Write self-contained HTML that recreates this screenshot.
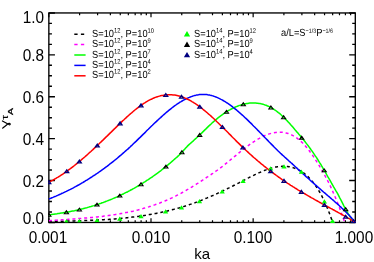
<!DOCTYPE html>
<html><head><meta charset="utf-8"><style>
html,body{margin:0;padding:0;background:#fff}
#w{position:relative;width:374px;height:262px;overflow:hidden;background:#fff;font-family:"Liberation Sans",sans-serif;color:#000}
#tx{position:absolute;left:0;top:0;width:374px;height:262px;filter:grayscale(1)}
.t{position:absolute;font-size:16px;line-height:14px;white-space:nowrap;transform:scaleX(0.96)}
.yl{width:40px;text-align:right;left:4px;transform-origin:right center}
.xl{width:60px;text-align:center}
.lg{position:absolute;font-size:9.3px;line-height:10px;white-space:nowrap;transform:scaleY(1.1) rotate(0.03deg);transform-origin:0 8.07px}
.an sup{top:-2.8px !important;font-size:5.4px !important}
.lg sup{font-size:5.8px;line-height:0;vertical-align:baseline;position:relative;top:-3.7px}
</style></head><body><div id="w">
<svg width="374" height="262" viewBox="0 0 374 262" style="position:absolute;left:0;top:0">
<rect x="48.85" y="12.95" width="306.45" height="209.5" fill="none" stroke="#000" stroke-width="1.35"/>
<path d="M48.85,222.45 h6.1 M355.3,222.45 h-6.1 M48.85,211.97 h3.1 M355.3,211.97 h-3.1 M48.85,201.50 h3.1 M355.3,201.50 h-3.1 M48.85,191.02 h3.1 M355.3,191.02 h-3.1 M48.85,180.55 h6.1 M355.3,180.55 h-6.1 M48.85,170.07 h3.1 M355.3,170.07 h-3.1 M48.85,159.60 h3.1 M355.3,159.60 h-3.1 M48.85,149.12 h3.1 M355.3,149.12 h-3.1 M48.85,138.65 h6.1 M355.3,138.65 h-6.1 M48.85,128.17 h3.1 M355.3,128.17 h-3.1 M48.85,117.70 h3.1 M355.3,117.70 h-3.1 M48.85,107.22 h3.1 M355.3,107.22 h-3.1 M48.85,96.75 h6.1 M355.3,96.75 h-6.1 M48.85,86.27 h3.1 M355.3,86.27 h-3.1 M48.85,75.80 h3.1 M355.3,75.80 h-3.1 M48.85,65.32 h3.1 M355.3,65.32 h-3.1 M48.85,54.85 h6.1 M355.3,54.85 h-6.1 M48.85,44.38 h3.1 M355.3,44.38 h-3.1 M48.85,33.90 h3.1 M355.3,33.90 h-3.1 M48.85,23.42 h3.1 M355.3,23.42 h-3.1 M48.85,12.95 h6.1 M355.3,12.95 h-6.1" stroke="#000" stroke-width="1.4" fill="none"/>
<path d="M48.85,222.45 v-4.3 M48.85,12.95 v4.3 M79.60,222.45 v-2.2 M79.60,12.95 v2.2 M97.59,222.45 v-2.2 M97.59,12.95 v2.2 M110.35,222.45 v-2.2 M110.35,12.95 v2.2 M120.25,222.45 v-2.2 M120.25,12.95 v2.2 M128.34,222.45 v-2.2 M128.34,12.95 v2.2 M135.18,222.45 v-2.2 M135.18,12.95 v2.2 M141.10,222.45 v-2.2 M141.10,12.95 v2.2 M146.33,222.45 v-2.2 M146.33,12.95 v2.2 M151.00,222.45 v-4.3 M151.00,12.95 v4.3 M181.75,222.45 v-2.2 M181.75,12.95 v2.2 M199.74,222.45 v-2.2 M199.74,12.95 v2.2 M212.50,222.45 v-2.2 M212.50,12.95 v2.2 M222.40,222.45 v-2.2 M222.40,12.95 v2.2 M230.49,222.45 v-2.2 M230.49,12.95 v2.2 M237.33,222.45 v-2.2 M237.33,12.95 v2.2 M243.25,222.45 v-2.2 M243.25,12.95 v2.2 M248.48,222.45 v-2.2 M248.48,12.95 v2.2 M253.15,222.45 v-4.3 M253.15,12.95 v4.3 M283.90,222.45 v-2.2 M283.90,12.95 v2.2 M301.89,222.45 v-2.2 M301.89,12.95 v2.2 M314.65,222.45 v-2.2 M314.65,12.95 v2.2 M324.55,222.45 v-2.2 M324.55,12.95 v2.2 M332.64,222.45 v-2.2 M332.64,12.95 v2.2 M339.48,222.45 v-2.2 M339.48,12.95 v2.2 M345.40,222.45 v-2.2 M345.40,12.95 v2.2 M350.63,222.45 v-2.2 M350.63,12.95 v2.2" stroke="#000" stroke-width="1.2" fill="none"/>
<defs><clipPath id="c"><rect x="48.15" y="12.25" width="307.84999999999997" height="210.9"/></clipPath><clipPath id="c2"><rect x="0" y="0" width="374" height="222.14999999999998"/></clipPath></defs>
<g clip-path="url(#c)" fill="none" stroke-width="1.5" stroke-linejoin="round">
<path d="M48.9,221.5 L49.8,221.5 L50.7,221.5 L51.7,221.4 L52.6,221.4 L53.6,221.4 L54.5,221.4 L55.5,221.3 L56.4,221.3 L57.4,221.3 L58.3,221.3 L59.3,221.3 L60.2,221.2 L61.2,221.2 L62.1,221.2 L63.1,221.2 L64.0,221.1 L65.0,221.1 L65.9,221.1 L66.9,221.1 L67.8,221.0 L68.8,221.0 L69.7,221.0 L70.7,221.0 L71.6,221.0 L72.5,220.9 L73.5,220.9 L74.4,220.9 L75.4,220.8 L76.3,220.8 L77.3,220.8 L78.2,220.8 L79.2,220.7 L80.1,220.7 L81.1,220.7 L82.0,220.6 L83.0,220.6 L83.9,220.6 L84.9,220.5 L85.8,220.5 L86.8,220.5 L87.7,220.4 L88.7,220.4 L89.6,220.4 L90.6,220.3 L91.5,220.3 L92.5,220.2 L93.4,220.2 L94.4,220.2 L95.3,220.1 L96.2,220.1 L97.2,220.0 L98.1,220.0 L99.1,219.9 L100.0,219.9 L101.0,219.8 L101.9,219.8 L102.9,219.7 L103.8,219.7 L104.8,219.6 L105.7,219.5 L106.7,219.5 L107.6,219.4 L108.6,219.4 L109.5,219.3 L110.5,219.2 L111.4,219.1 L112.4,219.1 L113.3,219.0 L114.3,218.9 L115.2,218.9 L116.2,218.8 L117.1,218.7 L118.1,218.6 L119.0,218.5 L119.9,218.4 L120.9,218.4 L121.8,218.3 L122.8,218.2 L123.7,218.1 L124.7,218.0 L125.6,217.9 L126.6,217.8 L127.5,217.7 L128.5,217.6 L129.4,217.5 L130.4,217.4 L131.3,217.3 L132.3,217.1 L133.2,217.0 L134.2,216.9 L135.1,216.8 L136.1,216.7 L137.0,216.5 L138.0,216.4 L138.9,216.3 L139.9,216.1 L140.8,216.0 L141.8,215.9 L142.7,215.7 L143.6,215.6 L144.6,215.4 L145.5,215.3 L146.5,215.1 L147.4,215.0 L148.4,214.8 L149.3,214.6 L150.3,214.5 L151.2,214.3 L152.2,214.1 L153.1,214.0 L154.1,213.8 L155.0,213.6 L156.0,213.4 L156.9,213.2 L157.9,213.0 L158.8,212.8 L159.8,212.6 L160.7,212.4 L161.7,212.2 L162.6,212.0 L163.6,211.8 L164.5,211.6 L165.5,211.4 L166.4,211.2 L167.3,211.0 L168.3,210.7 L169.2,210.5 L170.2,210.3 L171.1,210.0 L172.1,209.8 L173.0,209.5 L174.0,209.3 L174.9,209.0 L175.9,208.8 L176.8,208.5 L177.8,208.2 L178.7,208.0 L179.7,207.7 L180.6,207.4 L181.6,207.1 L182.5,206.9 L183.5,206.6 L184.4,206.3 L185.4,206.0 L186.3,205.7 L187.3,205.4 L188.2,205.1 L189.2,204.7 L190.1,204.4 L191.0,204.1 L192.0,203.8 L192.9,203.5 L193.9,203.1 L194.8,202.8 L195.8,202.4 L196.7,202.1 L197.7,201.7 L198.6,201.4 L199.6,201.0 L200.5,200.6 L201.5,200.3 L202.4,199.9 L203.4,199.5 L204.3,199.1 L205.3,198.7 L206.2,198.3 L207.2,197.9 L208.1,197.5 L209.1,197.1 L210.0,196.7 L211.0,196.3 L211.9,195.9 L212.9,195.5 L213.8,195.1 L214.7,194.6 L215.7,194.2 L216.6,193.8 L217.6,193.3 L218.5,192.9 L219.5,192.4 L220.4,192.0 L221.4,191.6 L222.3,191.1 L223.3,190.6 L224.2,190.2 L225.2,189.7 L226.1,189.3 L227.1,188.8 L228.0,188.3 L229.0,187.9 L229.9,187.4 L230.9,186.9 L231.8,186.5 L232.8,186.0 L233.7,185.5 L234.7,185.0 L235.6,184.5 L236.6,184.1 L237.5,183.6 L238.4,183.1 L239.4,182.6 L240.3,182.1 L241.3,181.6 L242.2,181.1 L243.2,180.6 L244.1,180.1 L245.1,179.6 L246.0,179.1 L247.0,178.7 L247.9,178.2 L248.9,177.7 L249.8,177.2 L250.8,176.7 L251.7,176.2 L252.7,175.8 L253.6,175.3 L254.6,174.8 L255.5,174.4 L256.5,173.9 L257.4,173.5 L258.4,173.0 L259.3,172.6 L260.3,172.2 L261.2,171.8 L262.1,171.4 L263.1,171.0 L264.0,170.6 L265.0,170.2 L265.9,169.9 L266.9,169.5 L267.8,169.2 L268.8,168.9 L269.7,168.6 L270.7,168.3 L271.6,168.0 L272.6,167.8 L273.5,167.5 L274.5,167.3 L275.4,167.1 L276.4,166.9 L277.3,166.8 L278.3,166.7 L279.2,166.5 L280.2,166.4 L281.1,166.4 L282.1,166.3 L283.0,166.3 L284.0,166.3 L284.9,166.3 L285.8,166.4 L286.8,166.4 L287.7,166.5 L288.7,166.7 L289.6,166.8 L290.6,167.0 L291.5,167.3 L292.5,167.5 L293.4,167.8 L294.4,168.1 L295.3,168.5 L296.3,168.8 L297.2,169.2 L298.2,169.7 L299.1,170.2 L300.1,170.7 L301.0,171.3 L302.0,171.9 L302.9,172.5 L303.9,173.2 L304.8,173.9 L305.8,174.7 L306.7,175.5 L307.7,176.3 L308.6,177.2 L309.5,178.2 L310.5,179.2 L311.4,180.3 L312.4,181.4 L313.3,182.6 L314.3,183.8 L315.2,185.1 L316.2,186.5 L317.1,187.9 L318.1,189.4 L319.0,191.0 L320.0,192.6 L320.9,194.4 L321.9,196.2 L322.8,198.0 L323.8,200.0 L324.7,202.0 L325.7,204.1 L326.6,206.3 L327.6,208.6 L328.5,211.0 L329.5,213.5 L330.4,216.1 L331.4,218.7 L332.3,221.5" stroke="#000" stroke-dasharray="3.0,2.9"/>
<path d="M48.9,220.8 L49.8,220.7 L50.8,220.6 L51.8,220.6 L52.8,220.5 L53.8,220.4 L54.8,220.3 L55.8,220.3 L56.8,220.2 L57.7,220.1 L58.7,220.1 L59.7,220.0 L60.7,219.9 L61.7,219.8 L62.7,219.8 L63.7,219.7 L64.7,219.6 L65.7,219.6 L66.6,219.5 L67.6,219.4 L68.6,219.3 L69.6,219.3 L70.6,219.2 L71.6,219.1 L72.6,219.1 L73.6,219.0 L74.5,218.9 L75.5,218.8 L76.5,218.8 L77.5,218.7 L78.5,218.6 L79.5,218.5 L80.5,218.5 L81.5,218.4 L82.5,218.3 L83.4,218.2 L84.4,218.1 L85.4,218.1 L86.4,218.0 L87.4,217.9 L88.4,217.8 L89.4,217.7 L90.4,217.6 L91.4,217.5 L92.3,217.4 L93.3,217.3 L94.3,217.2 L95.3,217.1 L96.3,217.0 L97.3,216.9 L98.3,216.8 L99.3,216.7 L100.2,216.6 L101.2,216.5 L102.2,216.4 L103.2,216.2 L104.2,216.1 L105.2,216.0 L106.2,215.9 L107.2,215.7 L108.2,215.6 L109.1,215.5 L110.1,215.3 L111.1,215.2 L112.1,215.0 L113.1,214.9 L114.1,214.7 L115.1,214.6 L116.1,214.4 L117.1,214.3 L118.0,214.1 L119.0,213.9 L120.0,213.8 L121.0,213.6 L122.0,213.4 L123.0,213.2 L124.0,213.0 L125.0,212.8 L125.9,212.6 L126.9,212.4 L127.9,212.2 L128.9,212.0 L129.9,211.8 L130.9,211.6 L131.9,211.4 L132.9,211.2 L133.9,210.9 L134.8,210.7 L135.8,210.4 L136.8,210.2 L137.8,210.0 L138.8,209.7 L139.8,209.4 L140.8,209.2 L141.8,208.9 L142.8,208.6 L143.7,208.3 L144.7,208.1 L145.7,207.8 L146.7,207.5 L147.7,207.2 L148.7,206.9 L149.7,206.5 L150.7,206.2 L151.6,205.9 L152.6,205.6 L153.6,205.2 L154.6,204.9 L155.6,204.5 L156.6,204.2 L157.6,203.8 L158.6,203.4 L159.6,203.1 L160.5,202.7 L161.5,202.3 L162.5,201.9 L163.5,201.5 L164.5,201.1 L165.5,200.7 L166.5,200.3 L167.5,199.8 L168.5,199.4 L169.4,199.0 L170.4,198.5 L171.4,198.1 L172.4,197.6 L173.4,197.1 L174.4,196.6 L175.4,196.2 L176.4,195.7 L177.3,195.2 L178.3,194.7 L179.3,194.1 L180.3,193.6 L181.3,193.1 L182.3,192.5 L183.3,192.0 L184.3,191.4 L185.3,190.9 L186.2,190.3 L187.2,189.7 L188.2,189.2 L189.2,188.6 L190.2,188.0 L191.2,187.4 L192.2,186.8 L193.2,186.2 L194.2,185.6 L195.1,184.9 L196.1,184.3 L197.1,183.7 L198.1,183.1 L199.1,182.4 L200.1,181.8 L201.1,181.1 L202.1,180.5 L203.0,179.9 L204.0,179.2 L205.0,178.6 L206.0,177.9 L207.0,177.2 L208.0,176.6 L209.0,175.9 L210.0,175.3 L211.0,174.6 L211.9,173.9 L212.9,173.3 L213.9,172.6 L214.9,171.9 L215.9,171.2 L216.9,170.5 L217.9,169.8 L218.9,169.1 L219.9,168.4 L220.8,167.6 L221.8,166.9 L222.8,166.1 L223.8,165.3 L224.8,164.5 L225.8,163.7 L226.8,162.9 L227.8,162.1 L228.7,161.3 L229.7,160.5 L230.7,159.7 L231.7,158.9 L232.7,158.1 L233.7,157.2 L234.7,156.4 L235.7,155.6 L236.7,154.8 L237.6,153.9 L238.6,153.1 L239.6,152.3 L240.6,151.5 L241.6,150.7 L242.6,149.9 L243.6,149.1 L244.6,148.4 L245.6,147.6 L246.5,146.8 L247.5,146.1 L248.5,145.4 L249.5,144.6 L250.5,143.9 L251.5,143.2 L252.5,142.6 L253.5,141.9 L254.4,141.3 L255.4,140.6 L256.4,140.0 L257.4,139.4 L258.4,138.8 L259.4,138.3 L260.4,137.7 L261.4,137.2 L262.4,136.7 L263.3,136.2 L264.3,135.8 L265.3,135.4 L266.3,135.0 L267.3,134.6 L268.3,134.2 L269.3,133.9 L270.3,133.6 L271.3,133.3 L272.2,133.1 L273.2,132.9 L274.2,132.7 L275.2,132.5 L276.2,132.4 L277.2,132.3 L278.2,132.2 L279.2,132.2 L280.1,132.2 L281.1,132.2 L282.1,132.3 L283.1,132.4 L284.1,132.6 L285.1,132.8 L286.1,133.0 L287.1,133.2 L288.1,133.5 L289.0,133.9 L290.0,134.3 L291.0,134.7 L292.0,135.2 L293.0,135.7 L294.0,136.2 L295.0,136.8 L296.0,137.5 L297.0,138.1 L297.9,138.9 L298.9,139.7 L299.9,140.5 L300.9,141.4 L301.9,142.3 L302.9,143.3 L303.9,144.3 L304.9,145.4 L305.8,146.5 L306.8,147.7 L307.8,148.9 L308.8,150.1 L309.8,151.5 L310.8,152.8 L311.8,154.2 L312.8,155.6 L313.8,157.1 L314.7,158.6 L315.7,160.1 L316.7,161.6 L317.7,163.2 L318.7,164.8 L319.7,166.4 L320.7,168.1 L321.7,169.7 L322.7,171.4 L323.6,173.2 L324.6,175.0 L325.6,176.8 L326.6,178.7 L327.6,180.6 L328.6,182.5 L329.6,184.6 L330.6,186.6 L331.5,188.8 L332.5,190.9 L333.5,193.2 L334.5,195.5 L335.5,197.8 L336.5,200.3 L337.5,202.7 L338.5,205.2 L339.5,207.8 L340.4,210.4 L341.4,213.1 L342.4,215.9 L343.4,218.7 L344.4,221.5" stroke="#ff00ff" stroke-dasharray="3.0,2.9"/>
<path d="M48.9,214.8 L49.9,214.7 L50.9,214.6 L51.9,214.4 L52.9,214.3 L54.0,214.2 L55.0,214.0 L56.0,213.9 L57.0,213.8 L58.1,213.6 L59.1,213.5 L60.1,213.3 L61.1,213.1 L62.2,213.0 L63.2,212.8 L64.2,212.6 L65.2,212.5 L66.3,212.3 L67.3,212.1 L68.3,211.9 L69.3,211.7 L70.4,211.5 L71.4,211.3 L72.4,211.1 L73.4,210.9 L74.5,210.7 L75.5,210.4 L76.5,210.2 L77.5,210.0 L78.6,209.7 L79.6,209.5 L80.6,209.3 L81.6,209.0 L82.7,208.8 L83.7,208.5 L84.7,208.2 L85.7,207.9 L86.8,207.7 L87.8,207.4 L88.8,207.1 L89.8,206.8 L90.9,206.5 L91.9,206.2 L92.9,205.9 L93.9,205.6 L95.0,205.2 L96.0,204.9 L97.0,204.6 L98.0,204.2 L99.1,203.9 L100.1,203.5 L101.1,203.2 L102.1,202.8 L103.2,202.5 L104.2,202.1 L105.2,201.7 L106.2,201.3 L107.3,200.9 L108.3,200.5 L109.3,200.1 L110.3,199.7 L111.4,199.3 L112.4,198.9 L113.4,198.4 L114.4,198.0 L115.5,197.5 L116.5,197.1 L117.5,196.6 L118.5,196.2 L119.6,195.7 L120.6,195.2 L121.6,194.7 L122.6,194.2 L123.7,193.7 L124.7,193.2 L125.7,192.7 L126.7,192.2 L127.8,191.7 L128.8,191.1 L129.8,190.6 L130.8,190.0 L131.9,189.5 L132.9,188.9 L133.9,188.4 L134.9,187.8 L136.0,187.2 L137.0,186.6 L138.0,186.0 L139.0,185.4 L140.1,184.8 L141.1,184.2 L142.1,183.5 L143.1,182.9 L144.2,182.2 L145.2,181.6 L146.2,180.9 L147.2,180.2 L148.3,179.6 L149.3,178.9 L150.3,178.2 L151.3,177.5 L152.4,176.8 L153.4,176.0 L154.4,175.3 L155.4,174.6 L156.5,173.8 L157.5,173.1 L158.5,172.3 L159.5,171.6 L160.6,170.8 L161.6,170.0 L162.6,169.2 L163.6,168.4 L164.7,167.6 L165.7,166.7 L166.7,165.9 L167.7,165.1 L168.8,164.2 L169.8,163.4 L170.8,162.5 L171.8,161.6 L172.9,160.7 L173.9,159.8 L174.9,158.9 L175.9,158.0 L177.0,157.1 L178.0,156.1 L179.0,155.2 L180.0,154.1 L181.1,153.1 L182.1,152.0 L183.1,150.9 L184.1,149.7 L185.2,148.6 L186.2,147.5 L187.2,146.4 L188.2,145.4 L189.3,144.4 L190.3,143.5 L191.3,142.6 L192.3,141.7 L193.4,140.8 L194.4,139.8 L195.4,138.9 L196.4,138.0 L197.5,137.0 L198.5,136.0 L199.5,135.0 L200.5,134.1 L201.6,133.1 L202.6,132.1 L203.6,131.1 L204.6,130.1 L205.7,129.1 L206.7,128.1 L207.7,127.1 L208.7,126.1 L209.8,125.1 L210.8,124.2 L211.8,123.2 L212.8,122.3 L213.9,121.4 L214.9,120.5 L215.9,119.6 L216.9,118.8 L218.0,117.9 L219.0,117.1 L220.0,116.3 L221.0,115.6 L222.1,114.8 L223.1,114.1 L224.1,113.4 L225.1,112.7 L226.2,112.0 L227.2,111.4 L228.2,110.7 L229.2,110.1 L230.3,109.6 L231.3,109.0 L232.3,108.5 L233.3,108.0 L234.4,107.5 L235.4,107.0 L236.4,106.6 L237.4,106.2 L238.5,105.8 L239.5,105.4 L240.5,105.1 L241.5,104.7 L242.6,104.5 L243.6,104.2 L244.6,103.9 L245.6,103.7 L246.7,103.5 L247.7,103.4 L248.7,103.2 L249.7,103.1 L250.8,103.1 L251.8,103.0 L252.8,103.0 L253.8,103.0 L254.9,103.0 L255.9,103.1 L256.9,103.2 L257.9,103.3 L259.0,103.4 L260.0,103.6 L261.0,103.8 L262.0,104.1 L263.1,104.3 L264.1,104.6 L265.1,105.0 L266.1,105.3 L267.2,105.8 L268.2,106.2 L269.2,106.7 L270.2,107.2 L271.3,107.7 L272.3,108.3 L273.3,108.9 L274.3,109.6 L275.4,110.3 L276.4,111.0 L277.4,111.8 L278.4,112.6 L279.5,113.4 L280.5,114.3 L281.5,115.2 L282.5,116.2 L283.6,117.2 L284.6,118.2 L285.6,119.2 L286.6,120.3 L287.7,121.4 L288.7,122.5 L289.7,123.6 L290.7,124.8 L291.8,125.9 L292.8,127.1 L293.8,128.3 L294.8,129.5 L295.9,130.7 L296.9,131.9 L297.9,133.1 L298.9,134.3 L300.0,135.5 L301.0,136.7 L302.0,138.0 L303.0,139.2 L304.1,140.5 L305.1,141.8 L306.1,143.1 L307.1,144.4 L308.2,145.8 L309.2,147.1 L310.2,148.5 L311.2,150.0 L312.3,151.4 L313.3,152.9 L314.3,154.4 L315.3,155.9 L316.4,157.4 L317.4,159.0 L318.4,160.6 L319.4,162.3 L320.5,163.9 L321.5,165.7 L322.5,167.4 L323.5,169.2 L324.6,170.9 L325.6,172.7 L326.6,174.5 L327.6,176.3 L328.7,178.1 L329.7,179.9 L330.7,181.7 L331.7,183.5 L332.8,185.3 L333.8,187.1 L334.8,188.8 L335.8,190.6 L336.9,192.4 L337.9,194.2 L338.9,196.1 L339.9,198.1 L341.0,200.1 L342.0,202.1 L343.0,204.1 L344.0,206.1 L345.1,208.1 L346.1,210.0 L347.1,211.8 L348.1,213.6 L349.2,215.3 L350.2,216.8 L351.2,218.3 L352.2,219.5 L353.3,220.6 L354.3,221.5 L355.3,222.2" stroke="#00ff00"/>
<path d="M48.9,199.0 L49.9,198.6 L50.9,198.2 L51.9,197.8 L52.9,197.4 L54.0,196.9 L55.0,196.5 L56.0,196.1 L57.0,195.6 L58.1,195.2 L59.1,194.7 L60.1,194.3 L61.1,193.8 L62.2,193.3 L63.2,192.9 L64.2,192.4 L65.2,191.9 L66.3,191.4 L67.3,190.9 L68.3,190.4 L69.3,189.9 L70.4,189.4 L71.4,188.8 L72.4,188.3 L73.4,187.8 L74.5,187.2 L75.5,186.7 L76.5,186.1 L77.5,185.5 L78.6,185.0 L79.6,184.4 L80.6,183.8 L81.6,183.2 L82.7,182.6 L83.7,182.0 L84.7,181.4 L85.7,180.7 L86.8,180.1 L87.8,179.5 L88.8,178.8 L89.8,178.2 L90.9,177.5 L91.9,176.9 L92.9,176.2 L93.9,175.5 L95.0,174.9 L96.0,174.2 L97.0,173.5 L98.0,172.8 L99.1,172.0 L100.1,171.3 L101.1,170.6 L102.1,169.9 L103.2,169.1 L104.2,168.4 L105.2,167.6 L106.2,166.9 L107.3,166.1 L108.3,165.3 L109.3,164.5 L110.3,163.7 L111.4,162.9 L112.4,162.1 L113.4,161.3 L114.4,160.5 L115.5,159.7 L116.5,158.8 L117.5,158.0 L118.5,157.1 L119.6,156.2 L120.6,155.4 L121.6,154.5 L122.6,153.6 L123.7,152.7 L124.7,151.8 L125.7,150.9 L126.7,150.0 L127.8,149.1 L128.8,148.1 L129.8,147.2 L130.8,146.2 L131.9,145.3 L132.9,144.3 L133.9,143.3 L134.9,142.4 L136.0,141.4 L137.0,140.4 L138.0,139.4 L139.0,138.4 L140.1,137.4 L141.1,136.4 L142.1,135.4 L143.1,134.4 L144.2,133.4 L145.2,132.4 L146.2,131.3 L147.2,130.3 L148.3,129.3 L149.3,128.3 L150.3,127.3 L151.3,126.3 L152.4,125.3 L153.4,124.3 L154.4,123.3 L155.4,122.4 L156.5,121.4 L157.5,120.4 L158.5,119.5 L159.5,118.5 L160.6,117.6 L161.6,116.6 L162.6,115.7 L163.6,114.8 L164.7,113.9 L165.7,113.0 L166.7,112.1 L167.7,111.3 L168.8,110.4 L169.8,109.6 L170.8,108.8 L171.8,108.0 L172.9,107.2 L173.9,106.4 L174.9,105.7 L175.9,105.0 L177.0,104.2 L178.0,103.5 L179.0,102.9 L180.0,102.2 L181.1,101.6 L182.1,101.0 L183.1,100.4 L184.1,99.8 L185.2,99.3 L186.2,98.8 L187.2,98.3 L188.2,97.8 L189.3,97.4 L190.3,97.0 L191.3,96.6 L192.3,96.3 L193.4,95.9 L194.4,95.6 L195.4,95.4 L196.4,95.1 L197.5,94.9 L198.5,94.8 L199.5,94.6 L200.5,94.5 L201.6,94.5 L202.6,94.4 L203.6,94.4 L204.6,94.4 L205.7,94.5 L206.7,94.6 L207.7,94.8 L208.7,94.9 L209.8,95.1 L210.8,95.4 L211.8,95.6 L212.8,95.9 L213.9,96.3 L214.9,96.6 L215.9,97.0 L216.9,97.4 L218.0,97.9 L219.0,98.4 L220.0,98.9 L221.0,99.4 L222.1,99.9 L223.1,100.5 L224.1,101.1 L225.1,101.7 L226.2,102.4 L227.2,103.0 L228.2,103.7 L229.2,104.4 L230.3,105.2 L231.3,105.9 L232.3,106.7 L233.3,107.5 L234.4,108.3 L235.4,109.1 L236.4,109.9 L237.4,110.8 L238.5,111.7 L239.5,112.6 L240.5,113.5 L241.5,114.4 L242.6,115.3 L243.6,116.2 L244.6,117.2 L245.6,118.2 L246.7,119.1 L247.7,120.1 L248.7,121.1 L249.7,122.1 L250.8,123.1 L251.8,124.1 L252.8,125.2 L253.8,126.2 L254.9,127.2 L255.9,128.3 L256.9,129.3 L257.9,130.4 L259.0,131.4 L260.0,132.5 L261.0,133.5 L262.0,134.6 L263.1,135.6 L264.1,136.7 L265.1,137.8 L266.1,138.8 L267.2,139.9 L268.2,140.9 L269.2,142.0 L270.2,143.0 L271.3,144.1 L272.3,145.1 L273.3,146.1 L274.3,147.2 L275.4,148.2 L276.4,149.2 L277.4,150.2 L278.4,151.2 L279.5,152.2 L280.5,153.2 L281.5,154.1 L282.5,155.1 L283.6,156.0 L284.6,157.0 L285.6,157.9 L286.6,158.8 L287.7,159.7 L288.7,160.7 L289.7,161.6 L290.7,162.5 L291.8,163.4 L292.8,164.4 L293.8,165.3 L294.8,166.2 L295.9,167.2 L296.9,168.1 L297.9,169.1 L298.9,170.0 L300.0,170.9 L301.0,171.9 L302.0,172.8 L303.0,173.8 L304.1,174.7 L305.1,175.6 L306.1,176.6 L307.1,177.5 L308.2,178.4 L309.2,179.3 L310.2,180.3 L311.2,181.2 L312.3,182.1 L313.3,183.0 L314.3,183.9 L315.3,184.8 L316.4,185.7 L317.4,186.6 L318.4,187.5 L319.4,188.4 L320.5,189.3 L321.5,190.2 L322.5,191.1 L323.5,192.0 L324.6,192.9 L325.6,193.7 L326.6,194.6 L327.6,195.5 L328.7,196.4 L329.7,197.2 L330.7,198.1 L331.7,199.0 L332.8,199.9 L333.8,200.8 L334.8,201.7 L335.8,202.6 L336.9,203.5 L337.9,204.4 L338.9,205.3 L339.9,206.3 L341.0,207.2 L342.0,208.2 L343.0,209.1 L344.0,210.1 L345.1,211.1 L346.1,212.2 L347.1,213.2 L348.1,214.3 L349.2,215.3 L350.2,216.4 L351.2,217.5 L352.2,218.7 L353.3,219.8 L354.3,221.0 L355.3,222.2" stroke="#0000ff"/>
<path d="M48.9,182.2 L49.9,181.7 L50.9,181.2 L51.9,180.6 L52.9,180.1 L54.0,179.5 L55.0,178.9 L56.0,178.3 L57.0,177.7 L58.1,177.1 L59.1,176.5 L60.1,175.8 L61.1,175.1 L62.2,174.5 L63.2,173.8 L64.2,173.1 L65.2,172.4 L66.3,171.7 L67.3,170.9 L68.3,170.2 L69.3,169.4 L70.4,168.7 L71.4,167.9 L72.4,167.1 L73.4,166.3 L74.5,165.5 L75.5,164.7 L76.5,163.9 L77.5,163.0 L78.6,162.2 L79.6,161.3 L80.6,160.5 L81.6,159.6 L82.7,158.7 L83.7,157.8 L84.7,157.0 L85.7,156.1 L86.8,155.2 L87.8,154.2 L88.8,153.3 L89.8,152.4 L90.9,151.5 L91.9,150.5 L92.9,149.6 L93.9,148.6 L95.0,147.7 L96.0,146.7 L97.0,145.8 L98.0,144.8 L99.1,143.8 L100.1,142.8 L101.1,141.9 L102.1,140.9 L103.2,139.9 L104.2,138.9 L105.2,137.9 L106.2,136.9 L107.3,135.9 L108.3,134.9 L109.3,133.9 L110.3,132.9 L111.4,131.9 L112.4,130.9 L113.4,129.9 L114.4,128.9 L115.5,127.9 L116.5,126.9 L117.5,125.9 L118.5,124.9 L119.6,123.9 L120.6,122.9 L121.6,121.9 L122.6,120.9 L123.7,120.0 L124.7,119.0 L125.7,118.1 L126.7,117.1 L127.8,116.2 L128.8,115.3 L129.8,114.4 L130.8,113.5 L131.9,112.6 L132.9,111.7 L133.9,110.8 L134.9,110.0 L136.0,109.2 L137.0,108.4 L138.0,107.6 L139.0,106.8 L140.1,106.0 L141.1,105.3 L142.1,104.6 L143.1,103.9 L144.2,103.2 L145.2,102.6 L146.2,101.9 L147.2,101.3 L148.3,100.7 L149.3,100.2 L150.3,99.7 L151.3,99.2 L152.4,98.7 L153.4,98.2 L154.4,97.8 L155.4,97.4 L156.5,97.0 L157.5,96.7 L158.5,96.4 L159.5,96.1 L160.6,95.8 L161.6,95.6 L162.6,95.4 L163.6,95.2 L164.7,95.1 L165.7,94.9 L166.7,94.8 L167.7,94.8 L168.8,94.7 L169.8,94.7 L170.8,94.7 L171.8,94.8 L172.9,94.9 L173.9,95.0 L174.9,95.1 L175.9,95.3 L177.0,95.5 L178.0,95.7 L179.0,95.9 L180.0,96.2 L181.1,96.5 L182.1,96.9 L183.1,97.2 L184.1,97.6 L185.2,98.1 L186.2,98.5 L187.2,99.0 L188.2,99.5 L189.3,100.0 L190.3,100.6 L191.3,101.2 L192.3,101.8 L193.4,102.4 L194.4,103.1 L195.4,103.7 L196.4,104.4 L197.5,105.1 L198.5,105.9 L199.5,106.6 L200.5,107.4 L201.6,108.2 L202.6,109.0 L203.6,109.8 L204.6,110.6 L205.7,111.5 L206.7,112.3 L207.7,113.2 L208.7,114.1 L209.8,115.0 L210.8,115.9 L211.8,116.9 L212.8,117.8 L213.9,118.8 L214.9,119.7 L215.9,120.7 L216.9,121.7 L218.0,122.7 L219.0,123.7 L220.0,124.7 L221.0,125.7 L222.1,126.7 L223.1,127.7 L224.1,128.7 L225.1,129.8 L226.2,130.8 L227.2,131.8 L228.2,132.8 L229.2,133.9 L230.3,134.9 L231.3,135.9 L232.3,137.0 L233.3,138.0 L234.4,139.0 L235.4,140.1 L236.4,141.1 L237.4,142.1 L238.5,143.1 L239.5,144.1 L240.5,145.1 L241.5,146.1 L242.6,147.1 L243.6,148.1 L244.6,149.1 L245.6,150.0 L246.7,151.0 L247.7,151.9 L248.7,152.9 L249.7,153.8 L250.8,154.7 L251.8,155.6 L252.8,156.6 L253.8,157.5 L254.9,158.3 L255.9,159.2 L256.9,160.1 L257.9,161.0 L259.0,161.9 L260.0,162.7 L261.0,163.6 L262.0,164.4 L263.1,165.2 L264.1,166.1 L265.1,166.9 L266.1,167.7 L267.2,168.5 L268.2,169.3 L269.2,170.1 L270.2,170.9 L271.3,171.7 L272.3,172.5 L273.3,173.2 L274.3,174.0 L275.4,174.7 L276.4,175.5 L277.4,176.2 L278.4,177.0 L279.5,177.7 L280.5,178.4 L281.5,179.1 L282.5,179.8 L283.6,180.5 L284.6,181.2 L285.6,181.9 L286.6,182.6 L287.7,183.3 L288.7,183.9 L289.7,184.6 L290.7,185.3 L291.8,185.9 L292.8,186.6 L293.8,187.2 L294.8,187.9 L295.9,188.5 L296.9,189.1 L297.9,189.8 L298.9,190.4 L300.0,191.0 L301.0,191.6 L302.0,192.2 L303.0,192.8 L304.1,193.4 L305.1,194.0 L306.1,194.6 L307.1,195.2 L308.2,195.8 L309.2,196.4 L310.2,197.0 L311.2,197.6 L312.3,198.2 L313.3,198.7 L314.3,199.3 L315.3,199.9 L316.4,200.5 L317.4,201.0 L318.4,201.6 L319.4,202.2 L320.5,202.7 L321.5,203.3 L322.5,203.9 L323.5,204.4 L324.6,205.0 L325.6,205.6 L326.6,206.1 L327.6,206.7 L328.7,207.2 L329.7,207.8 L330.7,208.4 L331.7,208.9 L332.8,209.5 L333.8,210.0 L334.8,210.6 L335.8,211.2 L336.9,211.7 L337.9,212.3 L338.9,212.9 L339.9,213.4 L341.0,214.0 L342.0,214.6 L343.0,215.2 L344.0,215.7 L345.1,216.3 L346.1,216.9 L347.1,217.5 L348.1,218.1 L349.2,218.6 L350.2,219.2 L351.2,219.8 L352.2,220.4 L353.3,221.0 L354.3,221.6 L355.3,222.2" stroke="#ff0000"/>
</g>
<path d="M64.85,222.73 L67.95,222.73 L66.40,220.23 Z" fill="#00ff00" stroke="#00ff00" stroke-width="1.2" stroke-linejoin="miter" clip-path="url(#c2)"/>
<path d="M77.85,222.38 L80.95,222.38 L79.40,219.88 Z" fill="#00ff00" stroke="#00ff00" stroke-width="1.2" stroke-linejoin="miter" clip-path="url(#c2)"/>
<path d="M95.45,221.68 L98.55,221.68 L97.00,219.18 Z" fill="#00ff00" stroke="#00ff00" stroke-width="1.2" stroke-linejoin="miter" clip-path="url(#c2)"/>
<path d="M118.25,220.11 L121.35,220.11 L119.80,217.61 Z" fill="#00ff00" stroke="#00ff00" stroke-width="1.2" stroke-linejoin="miter" clip-path="url(#c2)"/>
<path d="M139.45,217.62 L142.55,217.62 L141.00,215.12 Z" fill="#00ff00" stroke="#00ff00" stroke-width="1.2" stroke-linejoin="miter" clip-path="url(#c2)"/>
<path d="M164.05,213.01 L167.15,213.01 L165.60,210.51 Z" fill="#00ff00" stroke="#00ff00" stroke-width="1.2" stroke-linejoin="miter" clip-path="url(#c2)"/>
<path d="M179.95,208.82 L183.05,208.82 L181.50,206.32 Z" fill="#00ff00" stroke="#00ff00" stroke-width="1.2" stroke-linejoin="miter" clip-path="url(#c2)"/>
<path d="M197.95,202.69 L201.05,202.69 L199.50,200.19 Z" fill="#00ff00" stroke="#00ff00" stroke-width="1.2" stroke-linejoin="miter" clip-path="url(#c2)"/>
<path d="M220.65,192.81 L223.75,192.81 L222.20,190.31 Z" fill="#00ff00" stroke="#00ff00" stroke-width="1.2" stroke-linejoin="miter" clip-path="url(#c2)"/>
<path d="M241.55,182.32 L244.65,182.32 L243.10,179.82 Z" fill="#00ff00" stroke="#00ff00" stroke-width="1.2" stroke-linejoin="miter" clip-path="url(#c2)"/>
<path d="M269.15,169.94 L272.25,169.94 L270.70,167.44 Z" fill="#00ff00" stroke="#00ff00" stroke-width="1.2" stroke-linejoin="miter" clip-path="url(#c2)"/>
<path d="M282.45,167.94 L285.55,167.94 L284.00,165.44 Z" fill="#00ff00" stroke="#00ff00" stroke-width="1.2" stroke-linejoin="miter" clip-path="url(#c2)"/>
<path d="M299.85,173.15 L302.95,173.15 L301.40,170.65 Z" fill="#00ff00" stroke="#00ff00" stroke-width="1.2" stroke-linejoin="miter"/>
<path d="M322.85,202.98 L325.95,202.98 L324.40,200.48 Z" fill="#00ff00" stroke="#00ff00" stroke-width="1.2" stroke-linejoin="miter"/>
<path d="M330.95,222.45 L334.05,222.45 L332.50,219.95 Z" fill="#00ff00" stroke="#00ff00" stroke-width="1.2" stroke-linejoin="miter"/>
<path d="M46.75,216.30 L50.95,216.30 L48.85,213.30 Z" fill="none" stroke="#000" stroke-width="1.05" stroke-linejoin="miter" clip-path="url(#c)"/>
<path d="M64.30,213.76 L68.50,213.76 L66.40,210.76 Z" fill="none" stroke="#000" stroke-width="1.05" stroke-linejoin="miter" clip-path="url(#c)"/>
<path d="M77.30,211.05 L81.50,211.05 L79.40,208.05 Z" fill="none" stroke="#000" stroke-width="1.05" stroke-linejoin="miter" clip-path="url(#c)"/>
<path d="M94.90,206.09 L99.10,206.09 L97.00,203.09 Z" fill="none" stroke="#000" stroke-width="1.05" stroke-linejoin="miter" clip-path="url(#c)"/>
<path d="M117.70,197.09 L121.90,197.09 L119.80,194.09 Z" fill="none" stroke="#000" stroke-width="1.05" stroke-linejoin="miter" clip-path="url(#c)"/>
<path d="M138.90,185.71 L143.10,185.71 L141.00,182.71 Z" fill="none" stroke="#000" stroke-width="1.05" stroke-linejoin="miter" clip-path="url(#c)"/>
<path d="M163.80,168.08 L168.00,168.08 L165.90,165.08 Z" fill="none" stroke="#000" stroke-width="1.05" stroke-linejoin="miter" clip-path="url(#c)"/>
<path d="M179.80,153.70 L184.00,153.70 L181.90,150.70 Z" fill="none" stroke="#000" stroke-width="1.05" stroke-linejoin="miter" clip-path="url(#c)"/>
<path d="M197.60,136.36 L201.80,136.36 L199.70,133.36 Z" fill="none" stroke="#000" stroke-width="1.05" stroke-linejoin="miter" clip-path="url(#c)"/>
<path d="M224.40,113.30 L228.60,113.30 L226.50,110.30 Z" fill="none" stroke="#000" stroke-width="1.05" stroke-linejoin="miter" clip-path="url(#c)"/>
<path d="M241.20,105.76 L245.40,105.76 L243.30,102.76 Z" fill="none" stroke="#000" stroke-width="1.05" stroke-linejoin="miter" clip-path="url(#c)"/>
<path d="M268.80,109.03 L273.00,109.03 L270.90,106.03 Z" fill="none" stroke="#000" stroke-width="1.05" stroke-linejoin="miter" clip-path="url(#c)"/>
<path d="M281.50,118.71 L285.70,118.71 L283.60,115.71 Z" fill="none" stroke="#000" stroke-width="1.05" stroke-linejoin="miter" clip-path="url(#c)"/>
<path d="M299.60,139.10 L303.80,139.10 L301.70,136.10 Z" fill="none" stroke="#000" stroke-width="1.05" stroke-linejoin="miter" clip-path="url(#c)"/>
<path d="M322.10,171.82 L326.30,171.82 L324.20,168.82 Z" fill="none" stroke="#000" stroke-width="1.05" stroke-linejoin="miter" clip-path="url(#c)"/>
<path d="M343.60,210.79 L347.80,210.79 L345.70,207.79 Z" fill="none" stroke="#000" stroke-width="1.05" stroke-linejoin="miter" clip-path="url(#c)"/>
<path d="M46.90,183.61 L50.80,183.61 L48.85,180.77 Z" fill="none" stroke="#000080" stroke-width="1.25" stroke-linejoin="miter" clip-path="url(#c)"/>
<path d="M64.85,172.70 L68.75,172.70 L66.80,169.86 Z" fill="none" stroke="#000080" stroke-width="1.25" stroke-linejoin="miter" clip-path="url(#c)"/>
<path d="M77.45,162.92 L81.35,162.92 L79.40,160.08 Z" fill="none" stroke="#000080" stroke-width="1.25" stroke-linejoin="miter" clip-path="url(#c)"/>
<path d="M95.35,146.92 L99.25,146.92 L97.30,144.08 Z" fill="none" stroke="#000080" stroke-width="1.25" stroke-linejoin="miter" clip-path="url(#c)"/>
<path d="M118.15,124.79 L122.05,124.79 L120.10,121.95 Z" fill="none" stroke="#000080" stroke-width="1.25" stroke-linejoin="miter" clip-path="url(#c)"/>
<path d="M139.05,106.79 L142.95,106.79 L141.00,103.95 Z" fill="none" stroke="#000080" stroke-width="1.25" stroke-linejoin="miter" clip-path="url(#c)"/>
<path d="M163.85,96.34 L167.75,96.34 L165.80,93.50 Z" fill="none" stroke="#000080" stroke-width="1.25" stroke-linejoin="miter" clip-path="url(#c)"/>
<path d="M179.55,98.10 L183.45,98.10 L181.50,95.26 Z" fill="none" stroke="#000080" stroke-width="1.25" stroke-linejoin="miter" clip-path="url(#c)"/>
<path d="M197.85,108.24 L201.75,108.24 L199.80,105.40 Z" fill="none" stroke="#000080" stroke-width="1.25" stroke-linejoin="miter" clip-path="url(#c)"/>
<path d="M220.45,128.45 L224.35,128.45 L222.40,125.61 Z" fill="none" stroke="#000080" stroke-width="1.25" stroke-linejoin="miter" clip-path="url(#c)"/>
<path d="M240.95,148.85 L244.85,148.85 L242.90,146.01 Z" fill="none" stroke="#000080" stroke-width="1.25" stroke-linejoin="miter" clip-path="url(#c)"/>
<path d="M268.75,172.68 L272.65,172.68 L270.70,169.84 Z" fill="none" stroke="#000080" stroke-width="1.25" stroke-linejoin="miter" clip-path="url(#c)"/>
<path d="M282.05,182.25 L285.95,182.25 L284.00,179.41 Z" fill="none" stroke="#000080" stroke-width="1.25" stroke-linejoin="miter" clip-path="url(#c)"/>
<path d="M299.45,193.29 L303.35,193.29 L301.40,190.45 Z" fill="none" stroke="#000080" stroke-width="1.25" stroke-linejoin="miter" clip-path="url(#c)"/>
<path d="M322.45,206.33 L326.35,206.33 L324.40,203.49 Z" fill="none" stroke="#000080" stroke-width="1.25" stroke-linejoin="miter" clip-path="url(#c)"/>
<path d="M343.75,218.09 L347.65,218.09 L345.70,215.25 Z" fill="none" stroke="#000080" stroke-width="1.25" stroke-linejoin="miter" clip-path="url(#c)"/>
<path d="M351.55,222.58 L355.45,222.58 L353.50,219.74 Z" fill="none" stroke="#000080" stroke-width="1.25" stroke-linejoin="miter" clip-path="url(#c)"/>
<path d="M74.3,34.2 H84.2" stroke="#000" stroke-width="1.5" stroke-dasharray="3.3,3.3"/>
<path d="M74.3,44.6 H84.2" stroke="#ff00ff" stroke-width="1.5" stroke-dasharray="3.3,3.3"/>
<path d="M74.3,55.0 H85.6" stroke="#00ff00" stroke-width="1.5"/>
<path d="M74.3,65.4 H85.6" stroke="#0000ff" stroke-width="1.5"/>
<path d="M74.3,75.8 H85.6" stroke="#ff0000" stroke-width="1.5"/>
<path d="M185.15,35.80 L188.85,35.80 L187.00,32.60 Z" fill="#00ff00" stroke="#00ff00" stroke-width="1.5" stroke-linejoin="miter"/>
<path d="M185.15,46.20 L188.85,46.20 L187.00,43.00 Z" fill="#000" stroke="#000" stroke-width="1.5" stroke-linejoin="miter"/>
<path d="M185.15,56.60 L188.85,56.60 L187.00,53.40 Z" fill="#000080" stroke="#000080" stroke-width="1.5" stroke-linejoin="miter"/>
</svg>
<div id="tx">
<svg width="374" height="262" viewBox="0 0 374 262" style="position:absolute;left:0;top:0">
<g font-family="Liberation Sans, sans-serif" font-size="10" fill="#000" stroke="#000" stroke-width="0.15">
<path d="M2.7,128.2 C3.4,127.3 5.4,126.1 7.4,124.3 C8.6,123.3 9.9,123.1 10.2,123.9 C10.4,124.7 9.6,125.1 8.9,124.6 C7.4,123.7 5,122.3 2.4,120.9" fill="none" stroke="#000" stroke-width="1.15" stroke-linecap="round" stroke-linejoin="round"/>
<text transform="translate(7.8,119.7) rotate(-90) scale(1.19,0.87)" x="-0.1" y="0">&#964;</text>
<text transform="translate(13.2,114.9) rotate(-90) scale(1.05,0.74)" x="0" y="0" stroke-width="0.35">A</text>
</g>
</svg>
<div class="t yl" style="top:11px">1.0</div>
<div class="t yl" style="top:48.9px">0.8</div>
<div class="t yl" style="top:90.8px">0.6</div>
<div class="t yl" style="top:132.7px">0.4</div>
<div class="t yl" style="top:174.5px">0.2</div>
<div class="t yl" style="top:212px">0.0</div>
<div class="t xl" style="left:17.7px;top:230.6px">0.001</div>
<div class="t xl" style="left:120.6px;top:230.6px">0.010</div>
<div class="t xl" style="left:222.7px;top:230.6px">0.100</div>
<div class="t xl" style="left:323.5px;top:230.6px">1.000</div>
<div class="t" style="left:194.2px;top:246.6px;font-size:15px;transform:none">ka</div>
<div class="lg" style="left:92.2px;top:28.8px">S=10<sup>12</sup>, P=10<sup>10</sup></div>
<div class="lg" style="left:92.2px;top:39.2px">S=10<sup>12</sup>, P=10<sup>9</sup></div>
<div class="lg" style="left:92.2px;top:49.6px">S=10<sup>12</sup>, P=10<sup>7</sup></div>
<div class="lg" style="left:92.2px;top:60.0px">S=10<sup>12</sup>, P=10<sup>4</sup></div>
<div class="lg" style="left:92.2px;top:70.4px">S=10<sup>12</sup>, P=10<sup>2</sup></div>
<div class="lg" style="left:193.8px;top:28.8px">S=10<sup>14</sup>, P=10<sup>12</sup></div>
<div class="lg" style="left:193.8px;top:39.2px">S=10<sup>14</sup>, P=10<sup>9</sup></div>
<div class="lg" style="left:193.8px;top:49.6px">S=10<sup>14</sup>, P=10<sup>4</sup></div>
<div class="lg an" style="left:280.7px;top:28.3px">a/L=S<sup>&minus;1/3</sup>P<sup>&minus;1/6</sup></div>
</div>
</div></body></html>
